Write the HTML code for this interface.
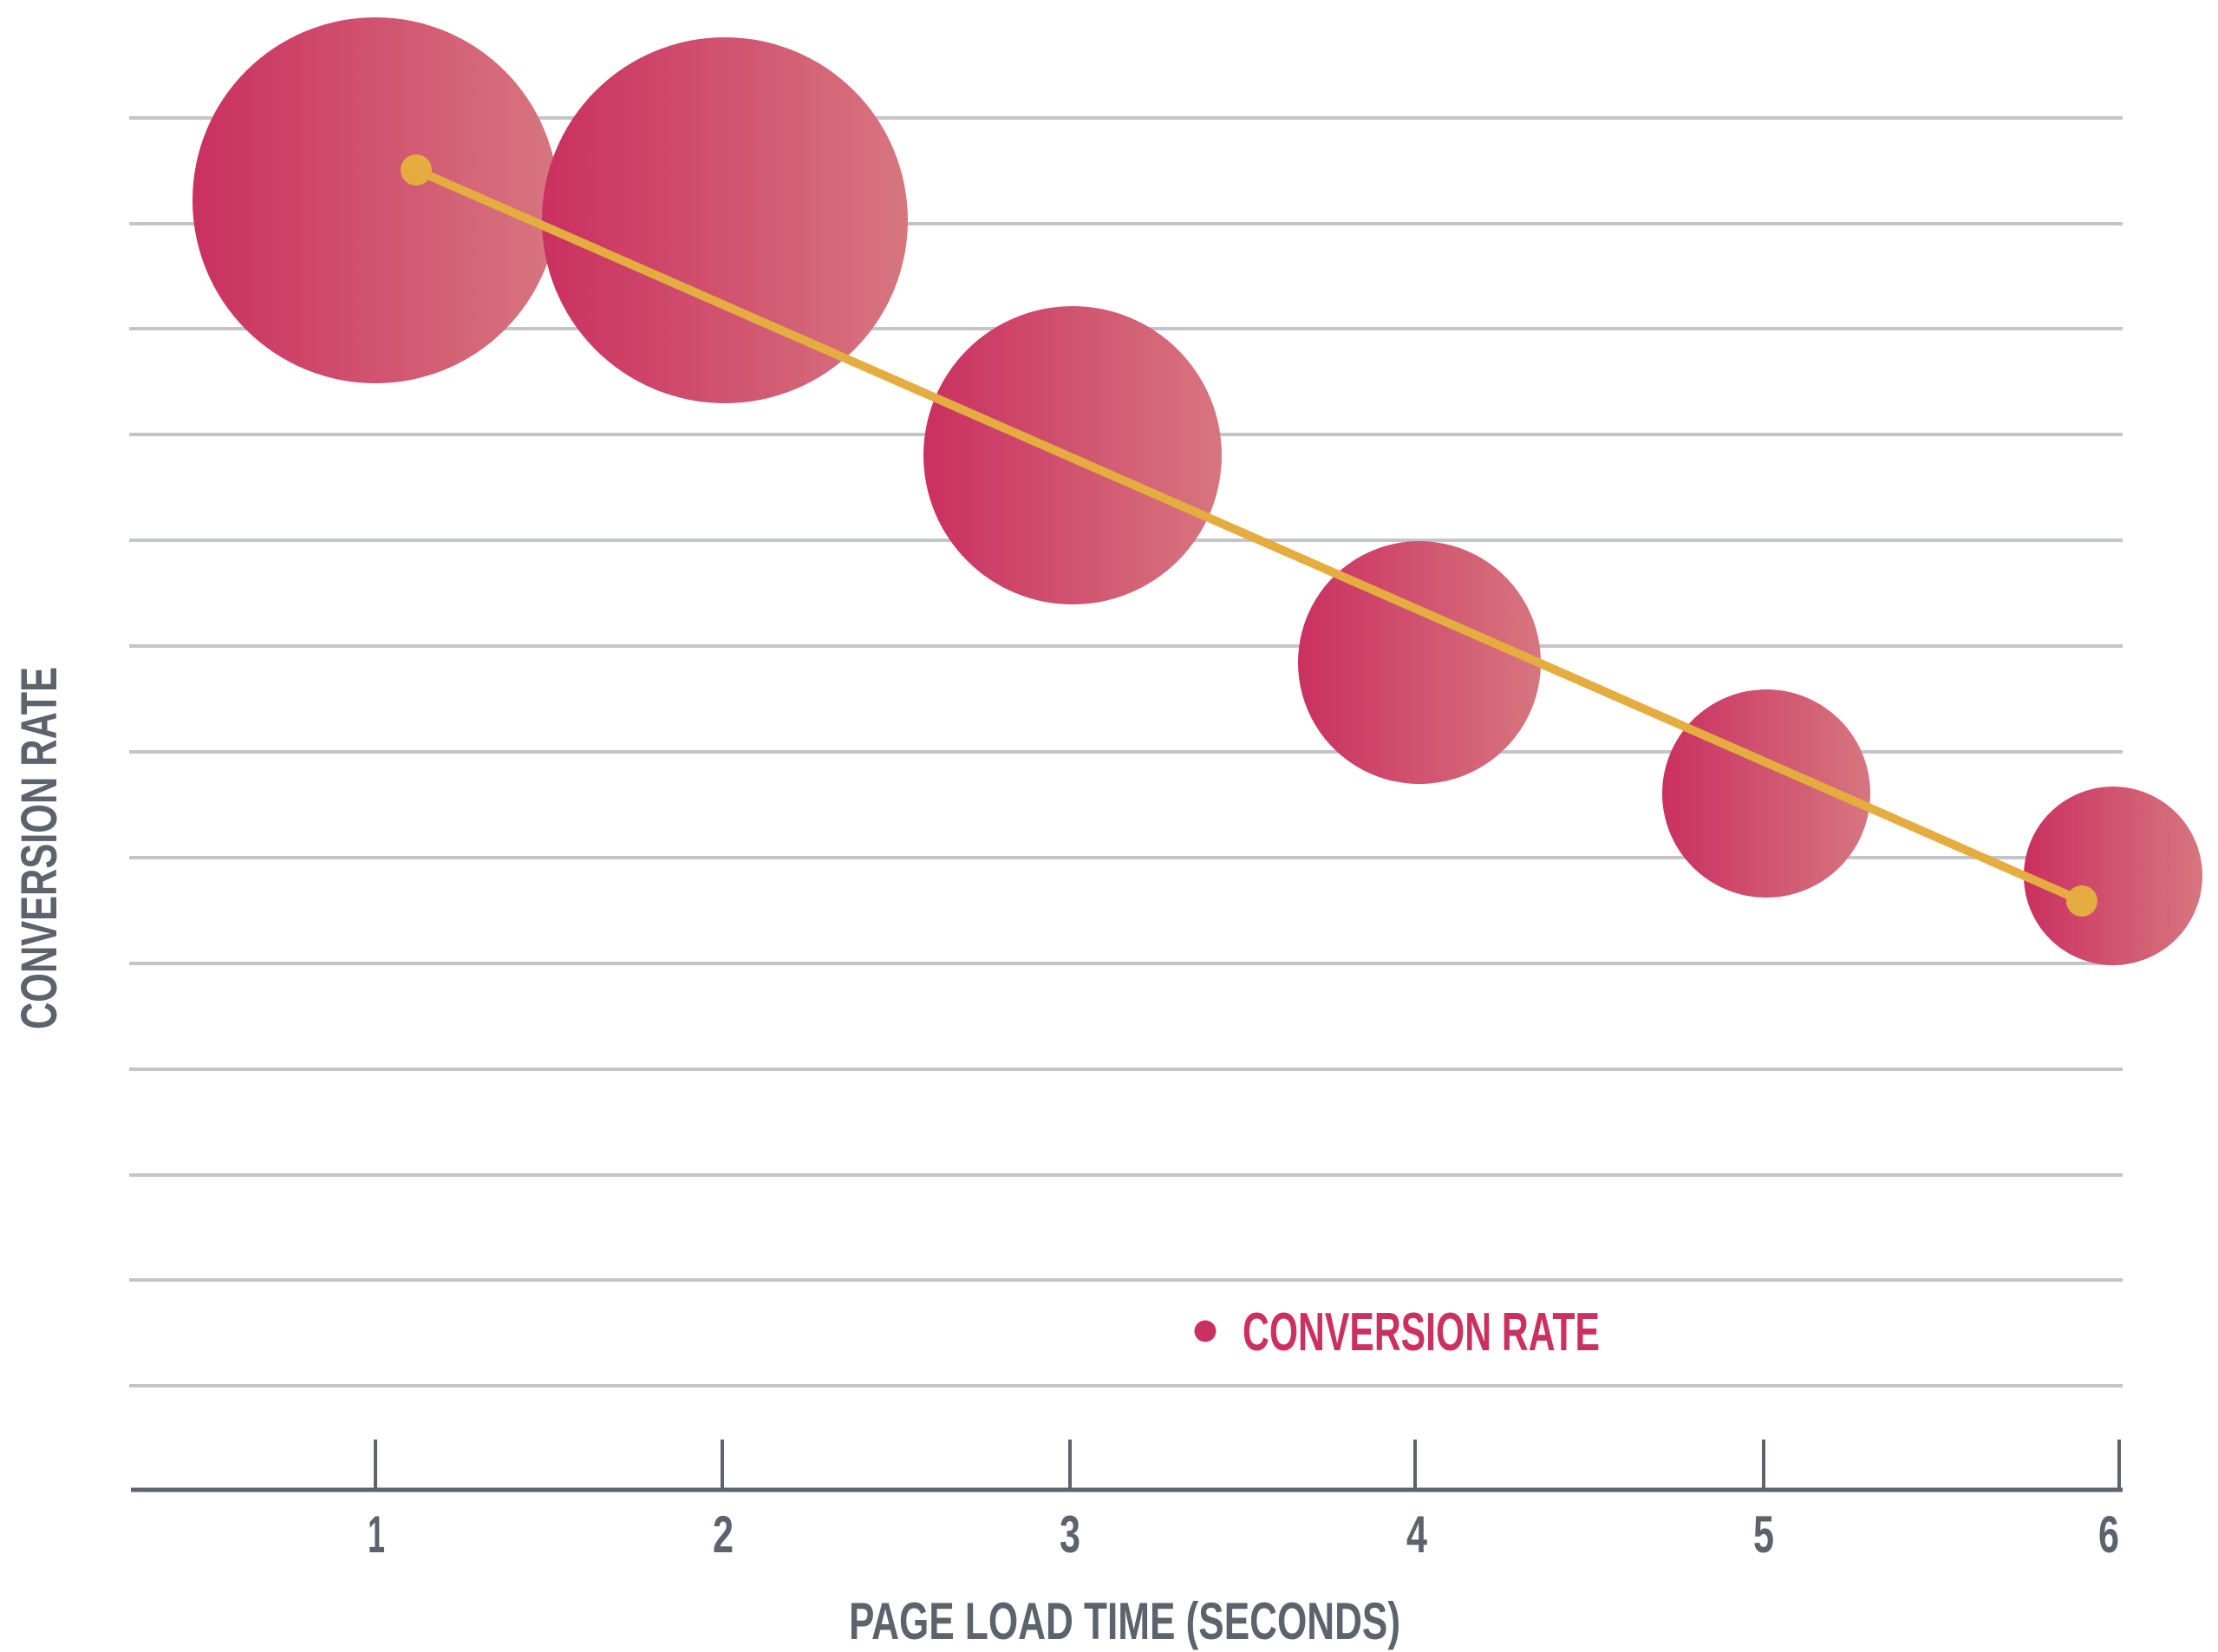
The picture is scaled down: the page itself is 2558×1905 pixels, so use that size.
<!DOCTYPE html>
<html><head><meta charset="utf-8"><style>
html,body{margin:0;padding:0;background:#fff;}
svg{display:block;}
text{font-family:"Liberation Sans",sans-serif;font-weight:bold;}
</style></head><body>
<svg width="2558" height="1905" viewBox="0 0 2558 1905" xmlns="http://www.w3.org/2000/svg">
<defs>
<linearGradient id="g" x1="0" y1="0" x2="1" y2="0">
<stop offset="0" stop-color="#ca3060"/><stop offset="1" stop-color="#d7767f"/>
</linearGradient>
</defs>
<g stroke="#c4c5ca" stroke-width="4">
<line x1="149" y1="136" x2="2448" y2="136"/>
<line x1="149" y1="258" x2="2448" y2="258"/>
<line x1="149" y1="379" x2="2448" y2="379"/>
<line x1="149" y1="501" x2="2448" y2="501"/>
<line x1="149" y1="623" x2="2448" y2="623"/>
<line x1="149" y1="745" x2="2448" y2="745"/>
<line x1="149" y1="867" x2="2448" y2="867"/>
<line x1="149" y1="989" x2="2448" y2="989"/>
<line x1="149" y1="1111" x2="2448" y2="1111"/>
<line x1="149" y1="1233" x2="2448" y2="1233"/>
<line x1="149" y1="1355" x2="2448" y2="1355"/>
<line x1="149" y1="1476" x2="2448" y2="1476"/>
<line x1="149" y1="1598" x2="2448" y2="1598"/>
</g>
<g fill="url(#g)">
<circle cx="433" cy="231" r="211"/>
<circle cx="836" cy="254" r="211"/>
<circle cx="1237" cy="525" r="172"/>
<circle cx="1637" cy="764" r="140"/>
<circle cx="2037" cy="915" r="120"/>
<circle cx="2437" cy="1010" r="103"/>
</g>
<line x1="480" y1="196" x2="2401" y2="1039" stroke="#e5ac40" stroke-width="10"/>
<circle cx="480" cy="196" r="18" fill="#e5ac40"/>
<circle cx="2401" cy="1039" r="18" fill="#e5ac40"/>
<g stroke="#5c636d">
<line x1="151" y1="1718" x2="2448" y2="1718" stroke-width="5"/>
<line x1="433" y1="1660" x2="433" y2="1718" stroke-width="4"/>
<line x1="833" y1="1660" x2="833" y2="1718" stroke-width="4"/>
<line x1="1234" y1="1660" x2="1234" y2="1718" stroke-width="4"/>
<line x1="1632" y1="1660" x2="1632" y2="1718" stroke-width="4"/>
<line x1="2034" y1="1660" x2="2034" y2="1718" stroke-width="4"/>
<line x1="2444" y1="1660" x2="2444" y2="1720" stroke-width="4"/>
</g>
<g fill="#5c636d" font-size="60" text-anchor="middle">
<text x="434" y="1790" textLength="20" lengthAdjust="spacingAndGlyphs">1</text>
<text x="834" y="1790" textLength="24" lengthAdjust="spacingAndGlyphs">2</text>
<text x="1234" y="1790" textLength="24" lengthAdjust="spacingAndGlyphs">3</text>
<text x="1634" y="1790" textLength="24" lengthAdjust="spacingAndGlyphs">4</text>
<text x="2034" y="1790" textLength="24" lengthAdjust="spacingAndGlyphs">5</text>
<text x="2432" y="1790" textLength="24" lengthAdjust="spacingAndGlyphs">6</text>
</g>
<text x="979" y="1890" font-size="60" fill="#5c636d" textLength="636" lengthAdjust="spacingAndGlyphs">PAGE LOAD TIME (SECONDS)</text>
<text transform="translate(65,1187) rotate(-90)" x="0" y="0" font-size="58" fill="#5c636d" textLength="418" lengthAdjust="spacingAndGlyphs">CONVERSION RATE</text>
<circle cx="1390" cy="1535" r="12.5" fill="#cb3160"/>
<text x="1433" y="1557" font-size="62" fill="#cb3160" textLength="412" lengthAdjust="spacingAndGlyphs">CONVERSION RATE</text>
</svg>
</body></html>
